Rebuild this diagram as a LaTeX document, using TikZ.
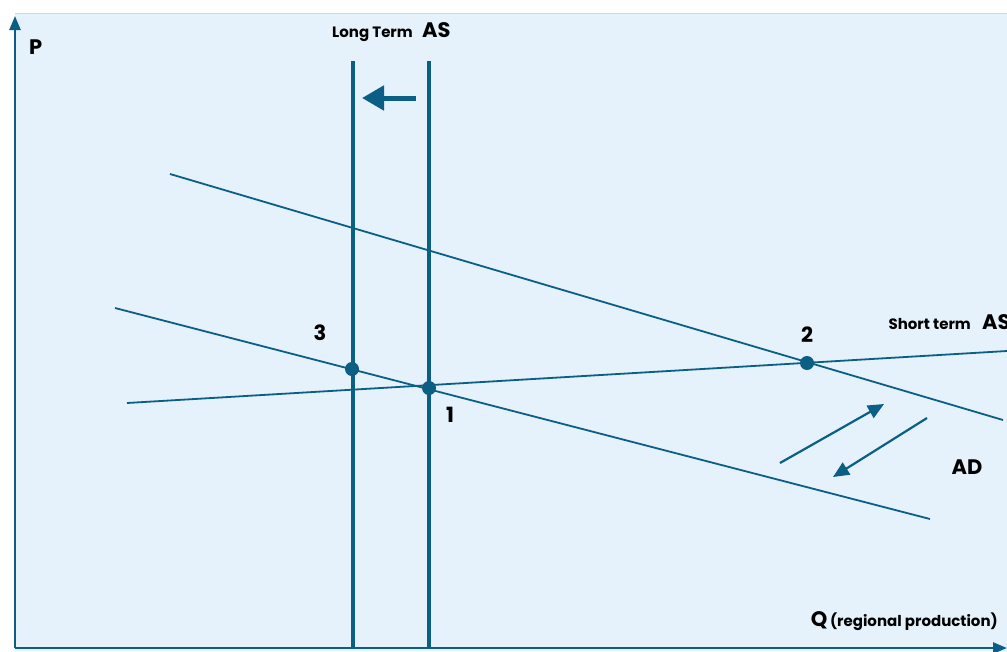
\documentclass[tikz,border=0pt]{standalone}
\usepackage{fontspec}
\setmainfont{Poppins}
\usetikzlibrary{arrows.meta}
\definecolor{ln}{HTML}{0B5F85}
\definecolor{pan}{HTML}{E5F1FB}
\begin{document}
\begin{tikzpicture}[x=1pt,y=-1pt,
  thin line/.style={ln, line width=1.8pt},
  thick line/.style={ln, line width=3.2pt},
  dot/.style={circle, fill=ln, inner sep=0pt, minimum size=14pt},
  lbl/.style={font=\bfseries\fontsize{21}{21}\selectfont, text=black, inner sep=0pt},
  small/.style={font=\bfseries\fontsize{15}{15}\selectfont, text=black, inner sep=0pt},
  tip/.style={-{Triangle[length=16pt,width=14pt]}}]
\useasboundingbox (0,0) rectangle (1007,651);
\fill[white] (0,0) rectangle (1007,651);
\fill[pan] (15,13) rectangle (1007,651);
\draw[pan!85!ln, line width=1pt] (15,13.5) -- (1007,13.5);
% axes
\coordinate (o) at (15,648);
\coordinate (ytop) at (15,16);
\coordinate (xend) at (1007,648);
\draw[ln, line width=2.5pt, -{Triangle[length=14pt,width=11pt]}] (o) -- (ytop);
\draw[ln, line width=2.5pt, -{Triangle[length=14pt,width=11pt]}] (o) -- (xend);
\node[lbl, anchor=west] (P) at (29,47) {P};
\node[anchor=east, inner sep=0pt] (Q) at (998,621) {{\bfseries\fontsize{21}{21}\selectfont Q} {\bfseries\fontsize{15}{15}\selectfont (regional production)}};
% long term AS
\coordinate (la) at (353,61); \coordinate (lb) at (353,648);
\coordinate (ra) at (429,61); \coordinate (rb) at (429,648);
\draw[thick line] (la) -- (lb);
\draw[thick line] (ra) -- (rb);
\node[small, anchor=base east] (lt) at (413,37) {Long Term};
\node[lbl, anchor=base west] (ltas) at (422,37) {AS};
\coordinate (sa) at (416,98); \coordinate (sb) at (362,98);
\draw[ln, line width=5pt, -{Triangle[length=22pt,width=24pt]}] (sa) -- (sb);
% AD curves
\coordinate (ad1a) at (170,174); \coordinate (ad1b) at (1003,420);
\coordinate (ad0a) at (115,308); \coordinate (ad0b) at (930,519);
\draw[thin line] (ad1a) -- (ad1b);
\draw[thin line] (ad0a) -- (ad0b);
% short term AS
\coordinate (sra) at (127,403); \coordinate (srb) at (1007,351);
\draw[thin line] (sra) -- (srb);
\node[small, anchor=base east] (st) at (971,329) {Short term};
\node[lbl, anchor=base west] (stas) at (982,329) {AS};
% points
\node[dot] (p1) at (429,388) {};
\node[dot] (p2) at (807,363) {};
\node[dot] (p3) at (352,369) {};
\node[lbl] (l1) at (450,415) {1};
\node[lbl] (l2) at (807,335) {2};
\node[lbl] (l3) at (320,333) {3};
\node[lbl] (ad) at (967,467) {AD};
% shift arrows
\coordinate (ua) at (780,463); \coordinate (ub) at (884,404);
\coordinate (da) at (927,418); \coordinate (db) at (833,477);
\draw[ln, line width=2.2pt, tip] (ua) -- (ub);
\draw[ln, line width=2.2pt, tip] (da) -- (db);
\end{tikzpicture}
\end{document}
